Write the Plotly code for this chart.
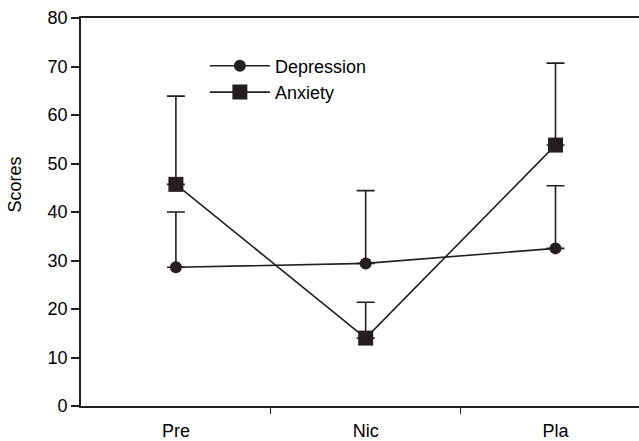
import plotly.graph_objects as go

categories = ["Pre", "Nic", "Pla"]
depression = [28.6, 29.4, 32.5]
depression_err = [11.4, 15.0, 12.9]
anxiety = [45.7, 14.0, 53.8]
anxiety_err = [18.2, 7.4, 16.9]
y_ticks = [0, 10, 20, 30, 40, 50, 60, 70, 80]

INK = "#231f20"
FONT = "Liberation Sans, Arial, sans-serif"

xpos = list(range(len(categories)))

fig = go.Figure()
fig.add_trace(go.Scatter(
    x=xpos, y=depression, name="Depression", mode="lines+markers",
    line=dict(color=INK, width=1.6),
    marker=dict(symbol="circle", size=12, color=INK),
    error_y=dict(type="data", array=depression_err, arrayminus=[0]*3,
                 symmetric=False, color=INK, thickness=1.6, width=9),
))
fig.add_trace(go.Scatter(
    x=xpos, y=anxiety, name="Anxiety", mode="lines+markers",
    line=dict(color=INK, width=1.6),
    marker=dict(symbol="square", size=15, color=INK),
    error_y=dict(type="data", array=anxiety_err, arrayminus=[0]*3,
                 symmetric=False, color=INK, thickness=1.6, width=9),
))

fig.update_layout(
    width=639, height=441,
    margin=dict(l=81, r=0, t=18, b=35, autoexpand=False),
    paper_bgcolor="white", plot_bgcolor="white",
    font=dict(family=FONT, size=18, color="black"),
    showlegend=True,
    legend=dict(x=0.222, y=0.924, xanchor="left", yanchor="top",
                bgcolor="rgba(0,0,0,0)", font=dict(size=18),
                tracegroupgap=0, itemwidth=60),
    xaxis=dict(
        range=[-0.5, 2.44], tickmode="array", tickvals=xpos, ticktext=categories,
        ticks="", showgrid=False, zeroline=False, automargin=False,
        showline=True, linecolor=INK, linewidth=1.6, mirror=True,
        minor=dict(tickmode="array", tickvals=[0.5, 1.5], ticks="outside",
                   ticklen=6, tickwidth=1.4, tickcolor=INK, showgrid=False),
        ticklabelstandoff=8,
    ),
    yaxis=dict(
        range=[0, 80], tickmode="array", tickvals=y_ticks,
        ticks="outside", ticklen=8, tickwidth=1.6, tickcolor=INK,
        showgrid=False, zeroline=False, automargin=False,
        showline=True, linecolor=INK, linewidth=1.6,
    ),
    annotations=[dict(text="Scores", textangle=-90, xref="paper", yref="paper",
                      x=-0.119, y=0.57, xanchor="center", yanchor="middle",
                      showarrow=False, font=dict(size=18))],
)

fig.write_html("out.html", config={"displayModeBar": False},
               post_script="document.body.style.margin='0';document.body.style.padding='0';")
